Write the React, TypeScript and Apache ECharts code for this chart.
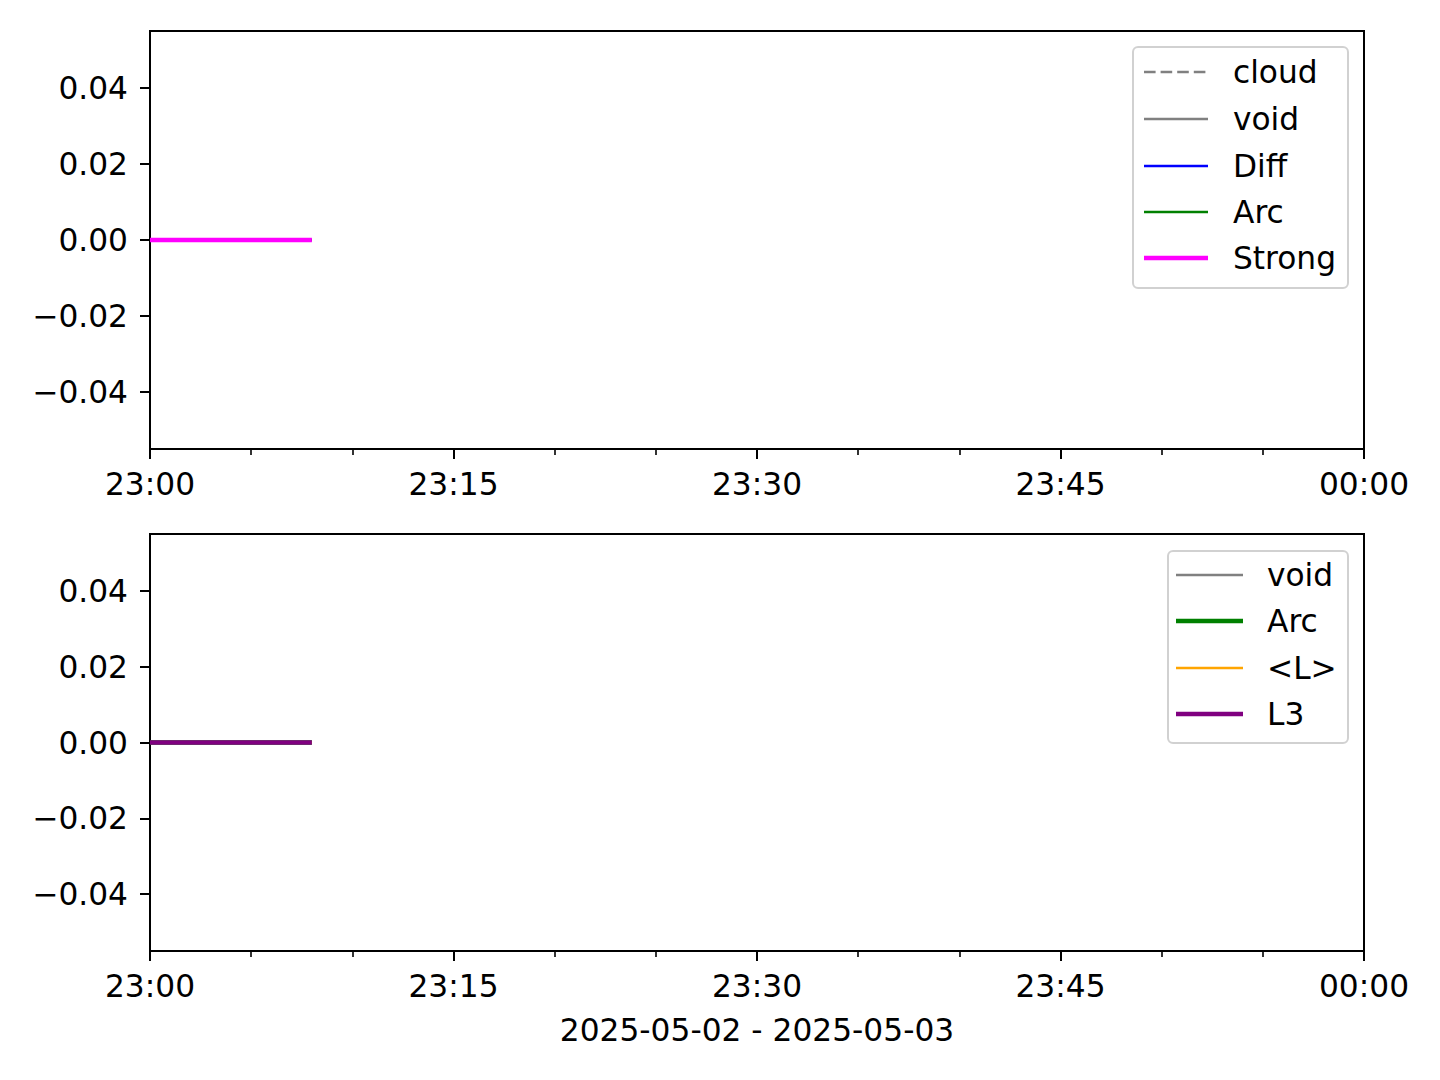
import React, { useEffect, useRef } from "react";
import * as echarts from "echarts";

// ---- data ----
const times: string[] = ["23:00", "23:01", "23:02", "23:03", "23:04", "23:05", "23:06", "23:07", "23:08"];
const cloud: number[] = [0, 0, 0, 0, 0, 0, 0, 0, 0];
const voidVals: number[] = [0, 0, 0, 0, 0, 0, 0, 0, 0];
const diff: number[] = [0, 0, 0, 0, 0, 0, 0, 0, 0];
const arc: number[] = [0, 0, 0, 0, 0, 0, 0, 0, 0];
const strong: number[] = [0, 0, 0, 0, 0, 0, 0, 0, 0];
const voidB: number[] = [0, 0, 0, 0, 0, 0, 0, 0, 0];
const arcB: number[] = [0, 0, 0, 0, 0, 0, 0, 0, 0];
const meanL: number[] = [0, 0, 0, 0, 0, 0, 0, 0, 0];
const l3: number[] = [0, 0, 0, 0, 0, 0, 0, 0, 0];
const xTickLabels: string[] = ["23:00", "23:15", "23:30", "23:45", "00:00"];
const yTicks: number[] = [-0.04, -0.02, 0, 0.02, 0.04];
const xTitle = "2025-05-02 - 2025-05-03";

const FONT = "DejaVu Sans";
const FS = 31.25;
const DASH = [11.6, 5];

function toMin(t: string): number {
  const [h, m] = t.split(":").map(Number);
  return (h - 23) * 60 + m;
}
function pts(vals: number[]): number[][] {
  return times.map((t, i) => [toMin(t), vals[i]]);
}

const App: React.FC = () => {
  const ref = useRef<HTMLDivElement>(null);
  useEffect(() => {
    if (!ref.current) return;
    const chart = echarts.init(ref.current, undefined, { renderer: "svg" });

    const xAxisBase = (gi: number) => ({
      type: "value" as const,
      gridIndex: gi,
      min: 0,
      max: 60,
      interval: 15,
      splitLine: { show: false },
      axisLine: { onZero: false, lineStyle: { color: "#000", width: 2 } },
      axisTick: { length: 10, lineStyle: { color: "#000", width: 2 } },
      minorTick: { show: true, splitNumber: 3, length: 6, lineStyle: { color: "#000", width: 1.6 } },
      axisLabel: {
        color: "#000",
        fontFamily: FONT,
        fontSize: FS,
        margin: 19,
        formatter: (v: number) => xTickLabels[Math.round(v / 15)] ?? "",
      },
    });
    const yAxisBase = (gi: number) => ({
      type: "value" as const,
      gridIndex: gi,
      min: -0.055,
      max: 0.055,
      splitLine: { show: false },
      axisLine: { show: true, onZero: false, lineStyle: { color: "#000", width: 2 } },
      axisTick: { show: true, length: 10, customValues: yTicks, lineStyle: { color: "#000", width: 2 } },
      axisLabel: {
        color: "#000",
        fontFamily: FONT,
        fontSize: FS,
        margin: 22,
        customValues: yTicks,
        formatter: (v: number) => v.toFixed(2).replace("-", "\u2212"),
      },
    });

    const line = (name: string, gi: number, vals: number[], color: string, width: number, dashed = false) => ({
      name,
      type: "line" as const,
      xAxisIndex: gi,
      yAxisIndex: gi,
      data: pts(vals),
      showSymbol: false,
      symbol: "none",
      lineStyle: { color, width, type: dashed ? DASH : "solid" },
      z: 2,
    });

    const legendItems = (
      x: number, y: number, w: number, h: number,
      lx1: number, lx2: number, tx: number, rows: number[],
      items: { name: string; color: string; width: number; dashed?: boolean }[]
    ) => {
      const els: any[] = [
        {
          type: "rect",
          shape: { x, y, width: w, height: h, r: 5 },
          style: { fill: "rgba(255,255,255,0.8)", stroke: "rgba(204,204,204,0.9)", lineWidth: 2 },
          z: 100,
        },
      ];
      items.forEach((it, i) => {
        els.push({
          type: "line",
          shape: { x1: lx1, y1: rows[i], x2: lx2, y2: rows[i] },
          style: { stroke: it.color, lineWidth: it.width, lineDash: it.dashed ? DASH : null },
          z: 101,
        });
        els.push({
          type: "text",
          x: tx,
          y: rows[i],
          style: { text: it.name, fill: "#000", font: `${FS}px "${FONT}"`, textVerticalAlign: "middle", textAlign: "left" },
          z: 101,
        });
      });
      return els;
    };

    chart.setOption({
      animation: false,
      backgroundColor: "#fff",
      grid: [
        { left: 150, right: 76, top: 31, height: 418, show: true, borderColor: "#000", borderWidth: 2, backgroundColor: "transparent" },
        { left: 150, right: 76, top: 534, height: 417, show: true, borderColor: "#000", borderWidth: 2, backgroundColor: "transparent" },
      ],
      xAxis: [
        xAxisBase(0),
        {
          ...xAxisBase(1),
          name: xTitle,
          nameLocation: "middle",
          nameGap: 63,
          nameTextStyle: { color: "#000", fontFamily: FONT, fontSize: FS },
        },
      ],
      yAxis: [yAxisBase(0), yAxisBase(1)],
      series: [
        line("cloud", 0, cloud, "#808080", 2.5, true),
        line("void", 0, voidVals, "#808080", 2.5),
        line("Diff", 0, diff, "#0000ff", 2.5),
        line("Arc", 0, arc, "#008000", 2.5),
        line("Strong", 0, strong, "#ff00ff", 4.5),
        line("void", 1, voidB, "#808080", 2.5),
        line("Arc", 1, arcB, "#008000", 4.5),
        line("<L>", 1, meanL, "#ffa500", 2.5),
        line("L3", 1, l3, "#800080", 4.5),
      ],
      graphic: [
        ...legendItems(1133, 47, 215, 241, 1144, 1208, 1233, [72, 119, 166, 212, 258], [
          { name: "cloud", color: "#808080", width: 2.5, dashed: true },
          { name: "void", color: "#808080", width: 2.5 },
          { name: "Diff", color: "#0000ff", width: 2.5 },
          { name: "Arc", color: "#008000", width: 2.5 },
          { name: "Strong", color: "#ff00ff", width: 4.5 },
        ]),
        ...legendItems(1168, 551, 180, 192, 1176, 1243, 1267, [575, 621, 668, 714], [
          { name: "void", color: "#808080", width: 2.5 },
          { name: "Arc", color: "#008000", width: 4.5 },
          { name: "<L>", color: "#ffa500", width: 2.5 },
          { name: "L3", color: "#800080", width: 4.5 },
        ]),
      ],
    });
    return () => chart.dispose();
  }, []);
  return <div ref={ref} style={{ position: "fixed", left: 0, top: 0, width: 1440, height: 1080 }} />;
};

export default App;
